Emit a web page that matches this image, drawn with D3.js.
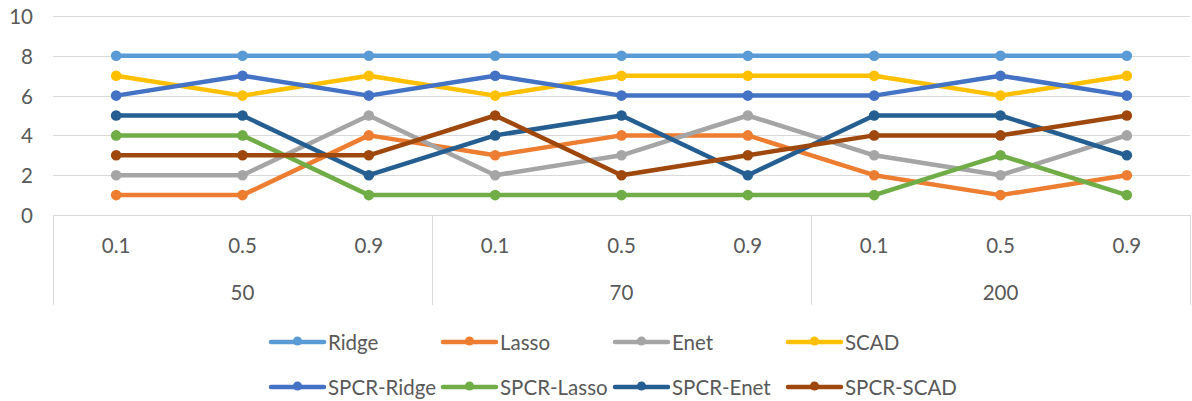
<!DOCTYPE html>
<html>
<head>
<meta charset="utf-8">
<script src="https://cdn.jsdelivr.net/npm/d3@7"></script>
<style>
  html, body { margin: 0; padding: 0; background: #fff; }
  svg { display: block; }
  text { font-family: Lato, "Open Sans", sans-serif; fill: #595959; font-size: 20.5px; }
</style>
</head>
<body>
<svg id="chart" width="1192" height="401"></svg>
<script>
// Two-level category axis: sample size (outer) and correlation (inner)
const groups = ["50", "70", "200"];
const levels = ["0.1", "0.5", "0.9"];
const yTicks = [0, 2, 4, 6, 8, 10];

// Rank of each method per setting
const seriesNames = ["Ridge", "Lasso", "Enet", "SCAD", "SPCR-Ridge", "SPCR-Lasso", "SPCR-Enet", "SPCR-SCAD"];
const ridge      = [8, 8, 8, 8, 8, 8, 8, 8, 8];
const lasso      = [1, 1, 4, 3, 4, 4, 2, 1, 2];
const enet       = [2, 2, 5, 2, 3, 5, 3, 2, 4];
const scad       = [7, 6, 7, 6, 7, 7, 7, 6, 7];
const spcrRidge  = [6, 7, 6, 7, 6, 6, 6, 7, 6];
const spcrLasso  = [4, 4, 1, 1, 1, 1, 1, 3, 1];
const spcrEnet   = [5, 5, 2, 4, 5, 2, 5, 5, 3];
const spcrScad   = [3, 3, 3, 5, 2, 3, 4, 4, 5];
const seriesValues = [ridge, lasso, enet, scad, spcrRidge, spcrLasso, spcrEnet, spcrScad];
const colors = ["#5B9BD5", "#ED7D31", "#A5A5A5", "#FFC000", "#4472C4", "#70AD47", "#255E91", "#9E480E"];

const categories = [];
groups.forEach(g => levels.forEach(l => categories.push({ key: g + "|" + l, group: g, level: l })));

const svg = d3.select("#chart");
const plotLeft = 53, plotRight = 1190, plotTop = 16, plotBottom = 215;

const x = d3.scaleBand().domain(categories.map(c => c.key)).range([plotLeft, plotRight]);
const y = d3.scaleLinear().domain([0, 10]).range([plotBottom, plotTop]);

// Horizontal gridlines
svg.append("g").selectAll("line").data(yTicks.filter(t => t > 0)).join("line")
  .attr("x1", plotLeft).attr("x2", plotRight)
  .attr("y1", d => Math.round(y(d)) + 0.5).attr("y2", d => Math.round(y(d)) + 0.5)
  .attr("stroke", "#d9d9d9").attr("stroke-width", 1);

// Y axis labels
svg.append("g").selectAll("text").data(yTicks).join("text")
  .attr("x", 33).attr("y", d => y(d))
  .attr("text-anchor", "end").attr("dominant-baseline", "central")
  .text(d => d);

// Category axis line and group separators
const axisG = svg.append("g");
axisG.append("line")
  .attr("x1", plotLeft).attr("x2", plotRight).attr("y1", plotBottom + 0.5).attr("y2", plotBottom + 0.5)
  .attr("stroke", "#d9d9d9").attr("stroke-width", 1);

const groupBounds = groups.map(g => {
  const keys = categories.filter(c => c.group === g).map(c => c.key);
  return { group: g, x0: x(keys[0]), x1: x(keys[keys.length - 1]) + x.bandwidth() };
});
const sepXs = [plotLeft].concat(groupBounds.map(b => b.x1));
axisG.selectAll("line.sep").data(sepXs).join("line")
  .attr("class", "sep")
  .attr("x1", d => Math.round(d) + 0.5).attr("x2", d => Math.round(d) + 0.5)
  .attr("y1", plotBottom).attr("y2", 305)
  .attr("stroke", "#d9d9d9").attr("stroke-width", 1);

// Inner labels
axisG.selectAll("text.lvl").data(categories).join("text")
  .attr("class", "lvl")
  .attr("x", d => x(d.key) + x.bandwidth() / 2)
  .attr("y", 245)
  .attr("text-anchor", "middle").attr("dominant-baseline", "central")
  .text(d => d.level);

// Outer labels
axisG.selectAll("text.grp").data(groupBounds).join("text")
  .attr("class", "grp")
  .attr("x", d => (d.x0 + d.x1) / 2)
  .attr("y", 292)
  .attr("text-anchor", "middle").attr("dominant-baseline", "central")
  .text(d => d.group);

// Lines with circle markers
const line = d3.line()
  .x((d, i) => x(categories[i].key) + x.bandwidth() / 2)
  .y(d => y(d));

const seriesG = svg.append("g").selectAll("g").data(seriesValues).join("g");
seriesG.append("path")
  .attr("d", d => line(d))
  .attr("fill", "none")
  .attr("stroke", (d, i) => colors[i])
  .attr("stroke-width", 4.5)
  .attr("stroke-linejoin", "round");
seriesG.each(function(vals, si) {
  d3.select(this).selectAll("circle").data(vals).join("circle")
    .attr("cx", (d, i) => x(categories[i].key) + x.bandwidth() / 2)
    .attr("cy", d => y(d))
    .attr("r", 5.3)
    .attr("fill", colors[si]);
});

// Legend: two rows of four
const legendCols = [271, 443, 615, 788];
const legendRows = [342, 387];
const legend = svg.append("g").selectAll("g").data(seriesNames).join("g")
  .attr("transform", (d, i) => `translate(${legendCols[i % 4]},${legendRows[Math.floor(i / 4)]})`);
legend.append("line")
  .attr("x1", 0).attr("x2", 53).attr("y1", 0).attr("y2", 0)
  .attr("stroke", (d, i) => colors[i]).attr("stroke-width", 4.5).attr("stroke-linecap", "round");
legend.append("circle")
  .attr("cx", 26.5).attr("cy", -1).attr("r", 4.5)
  .attr("fill", (d, i) => colors[i]);
legend.append("text")
  .attr("x", 57).attr("y", 0)
  .attr("dominant-baseline", "central")
  .text(d => d);
</script>
</body>
</html>
